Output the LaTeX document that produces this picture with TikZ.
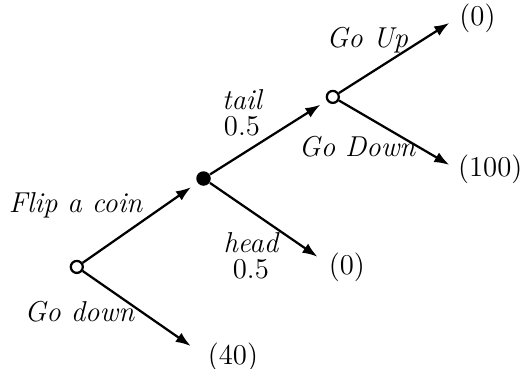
\documentclass[tikz,border=0pt]{standalone}
\usepackage{tikz}
\usetikzlibrary{arrows.meta}

\begin{document}
\begin{tikzpicture}[x=51.2pt,y=34pt,>={Latex[length=6pt,width=4.4pt]},
    every node/.style={font=\fontsize{11.5pt}{13pt}\selectfont},
    decision/.style={circle,draw,line width=0.9pt,fill=white,inner sep=0pt,minimum size=4.8pt},
    chance/.style={circle,fill,inner sep=0pt,minimum size=5.8pt},
    branch/.style={->,line width=0.9pt},
    lab/.style={font=\fontsize{11.5pt}{13pt}\selectfont\itshape,align=center}]
  \useasboundingbox (-0.60,-1.20) rectangle (3.47,3.14);
  % decision and chance points
  \node[decision] (root) at (0,0) {};
  \node[chance] (coin) at (0.99,1.04) {};
  \node[decision] (second) at (2,2) {};
  % ends of the final branches
  \coordinate (eforty) at (0.89,-0.93);
  \coordinate (ehead) at (1.88,0.12);
  \coordinate (eup) at (2.91,2.87);
  \coordinate (edown) at (2.91,1.20);
  % payoffs
  \node (pforty) at (1.22,-1.06) {(40)};
  \node (phead) at (2.11,0.00) {(0)};
  \node (pup) at (3.13,2.93) {(0)};
  \node (pdown) at (3.23,1.15) {(100)};
  \draw[branch,shorten >=3pt] (root) -- (coin);
  \draw[branch] (root) -- (eforty);
  \draw[branch,shorten >=3pt] (coin) -- (second);
  \draw[branch] (coin) -- (ehead);
  \draw[branch] (second) -- (eup);
  \draw[branch] (second) -- (edown);
  % labels
  \node[lab] (lflip) at (-0.01,0.73) {Flip a coin};
  \node[lab] (lgodown) at (0.02,-0.53) {Go down};
  \node[lab] (ltail) at (1.29,1.81) {tail\\[-2.5pt]\upshape 0.5};
  \node[lab] (lhead) at (1.36,0.13) {head\\[-2.5pt]\upshape 0.5};
  \node[lab] (lup) at (2.27,2.67) {Go Up};
  \node[lab] (ldown) at (2.19,1.41) {Go Down};
\end{tikzpicture}
\end{document}
